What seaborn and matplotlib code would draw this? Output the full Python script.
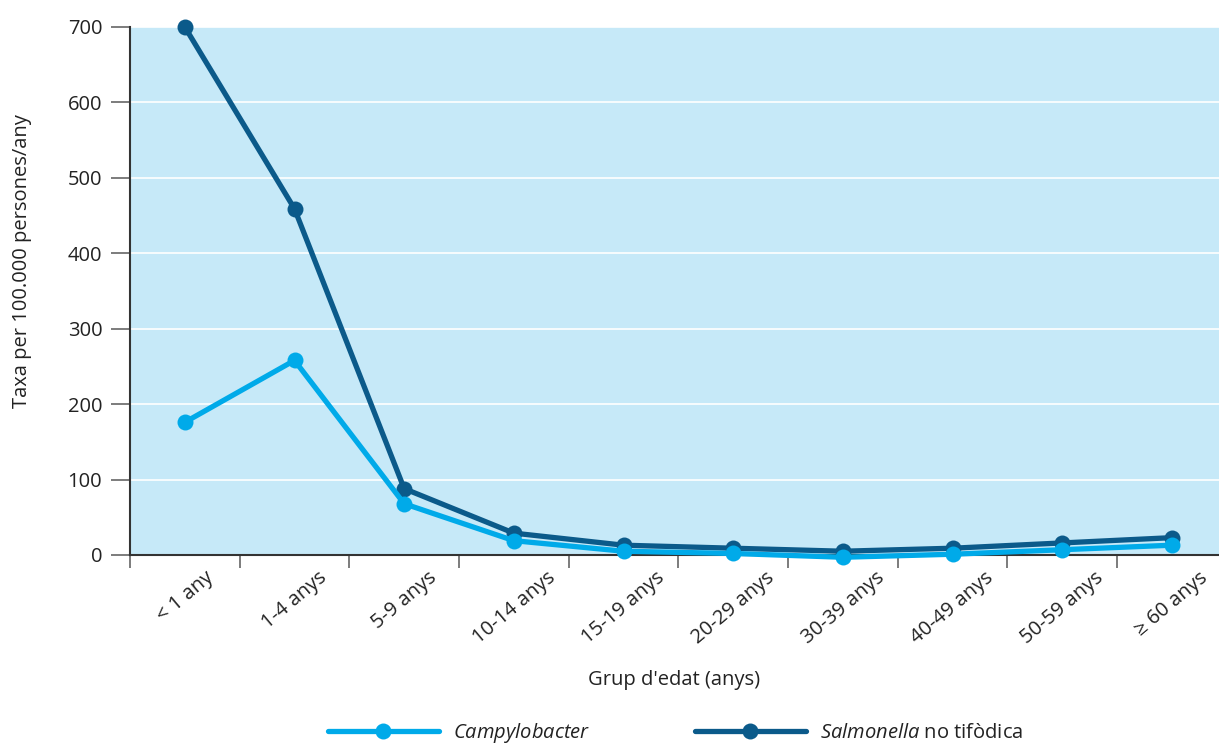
import pandas as pd
import seaborn as sns
import matplotlib.pyplot as plt
from matplotlib.lines import Line2D

sns.set_theme(style="white")
plt.rcParams['font.family'] = ['Open Sans', 'DejaVu Sans']
plt.rcParams['mathtext.fontset'] = 'custom'
plt.rcParams['mathtext.rm'] = 'Open Sans'
plt.rcParams['mathtext.it'] = 'Open Sans:italic'

# data
grups = ["< 1 any", "1-4 anys", "5-9 anys", "10-14 anys", "15-19 anys",
         "20-29 anys", "30-39 anys", "40-49 anys", "50-59 anys", "\u2265 60 anys"]
campylobacter = [176, 258, 68, 19, 5, 2, -3, 1, 7, 13]
salmonella = [700, 459, 88, 29, 13, 9, 5, 9, 16, 23]

blau_clar = "#00aae9"
blau_fosc = "#0b5a8a"
fons = "#c6e9f8"
fs = 14.5

df = pd.DataFrame({
    "grup": grups * 2,
    "taxa": salmonella + campylobacter,
    "serie": ["Salmonella"] * len(grups) + ["Campylobacter"] * len(grups),
})

fig = plt.figure(figsize=(12.19, 7.47), dpi=100)
ax = fig.add_axes([130 / 1219, 192 / 747, 1 - 130 / 1219, (555 - 27) / 747])
ax.set_facecolor(fons)

sns.lineplot(data=df, x="grup", y="taxa", hue="serie",
             hue_order=["Salmonella", "Campylobacter"],
             palette=[blau_fosc, blau_clar], marker="o", markersize=11.5,
             markeredgewidth=0, linewidth=3.8, legend=False, ax=ax,
             clip_on=False, zorder=3)

ax.set_ylim(0, 700)
ax.set_xlim(-0.5, 9.43)
ax.set_yticks(range(0, 701, 100))
ax.yaxis.grid(True, color="white", linewidth=1.2)
ax.set_axisbelow(True)

# ticks at category boundaries, labels at centres
ax.set_xticks([i - 0.5 for i in range(len(grups))])
ax.set_xticklabels([])
ax.set_xticks(range(len(grups)), minor=True)
ax.set_xticklabels(grups, minor=True, rotation=40, ha="center", fontsize=fs,
                   color="#222222")
ax.tick_params(axis="x", which="major", direction="out", length=9, width=1.2,
               color="#666666", bottom=True)
ax.tick_params(axis="x", which="minor", length=0, pad=9)
ax.tick_params(axis="y", direction="out", length=14, width=1.2, color="#666666",
               left=True, labelsize=fs, labelcolor="#222222", pad=6)

for s in ["top", "right"]:
    ax.spines[s].set_visible(False)
for s in ["left", "bottom"]:
    ax.spines[s].set_color("#333333")
    ax.spines[s].set_linewidth(1.5)

ax.set_xlabel("Grup d'edat (anys)", fontsize=fs, color="#222222", labelpad=16)
ax.set_ylabel("Taxa per 100.000 persones/any", fontsize=fs, color="#222222")
ax.yaxis.set_label_coords(-0.090, 0.557)

handles = [
    Line2D([], [], color=blau_clar, linewidth=3.8, marker="o", markersize=11.5,
           markeredgewidth=0),
    Line2D([], [], color=blau_fosc, linewidth=3.8, marker="o", markersize=11.5,
           markeredgewidth=0),
]
labels = [r"$\it{Campylobacter}$", r"$\it{Salmonella}$ no tif" + "\u00f2dica"]
fig.legend(handles, labels, loc="center left", bbox_to_anchor=(316 / 1219, 14 / 747),
           ncol=2, frameon=False, fontsize=fs, handlelength=5.5,
           columnspacing=5.2, handletextpad=0.7, labelcolor="#222222",
           borderaxespad=0.2)

fig.savefig("out.png", dpi=100)
